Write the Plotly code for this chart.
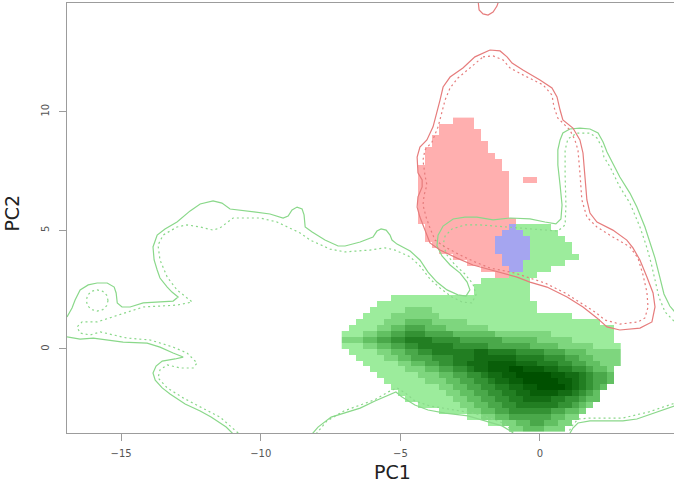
import plotly.graph_objects as go

# ---- density image grid (PC1 / PC2 units) ----
X0, DX, NCOL = -7.1, 0.25, 40
Y0, DY, NROW = -3.5, 0.25, 53

# green density: row -> (first column, [(level, run length), ...]) levels 1 (light) .. 9 (dark)
GREEN_RUNS = {
    34: (25, [(1, 5)]),
    33: (26, [(1, 5)]),
    32: (27, [(1, 5)]),
    31: (27, [(1, 6)]),
    30: (27, [(1, 6)]),
    29: (27, [(1, 7)]),
    28: (26, [(1, 6)]),
    27: (26, [(1, 4)]),
    26: (22, [(1, 6)]),
    25: (20, [(1, 7)]),
    24: (19, [(1, 8)]),
    23: (19, [(1, 8)]),
    22: (7, [(1, 20)]),
    21: (5, [(1, 23)]),
    20: (4, [(1, 5), (2, 4), (1, 15)]),
    19: (3, [(1, 4), (2, 7), (1, 19)]),
    18: (2, [(1, 4), (2, 3), (3, 4), (2, 5), (1, 19)]),
    17: (1, [(1, 4), (2, 2), (3, 2), (4, 3), (3, 3), (2, 6), (1, 18)]),
    16: (0, [(1, 3), (2, 2), (3, 2), (4, 2), (5, 3), (4, 4), (3, 6), (2, 8), (1, 9)]),
    15: (0, [(2, 3), (3, 2), (4, 2), (5, 2), (6, 4), (5, 4), (4, 6), (3, 5), (2, 5), (1, 6)]),
    14: (0, [(1, 3), (2, 2), (3, 2), (4, 2), (5, 2), (6, 5), (5, 5), (4, 6), (3, 4), (2, 5), (1, 4)]),
    13: (1, [(1, 4), (2, 2), (3, 2), (4, 2), (5, 2), (6, 6), (7, 2), (6, 4), (5, 4), (4, 3), (3, 3), (2, 5)]),
    12: (2, [(1, 4), (2, 2), (3, 2), (4, 3), (5, 3), (6, 3), (7, 6), (6, 4), (5, 3), (4, 2), (3, 2), (2, 4)]),
    11: (3, [(1, 5), (2, 2), (3, 2), (4, 2), (5, 2), (6, 2), (7, 3), (8, 4), (7, 3), (6, 3), (5, 2), (4, 2), (3, 2), (2, 3)]),
    10: (4, [(1, 5), (2, 3), (3, 2), (4, 2), (5, 2), (6, 1), (7, 2), (8, 3), (9, 2), (8, 3), (7, 2), (6, 2), (5, 2), (4, 1), (3, 2), (2, 1)]),
    9: (5, [(1, 6), (2, 3), (3, 2), (4, 2), (5, 2), (6, 1), (7, 2), (8, 2), (9, 5), (8, 2), (7, 2), (6, 1), (5, 1), (4, 2), (3, 1)]),
    8: (6, [(1, 6), (2, 3), (3, 2), (4, 2), (5, 2), (6, 1), (7, 2), (8, 2), (9, 5), (8, 2), (7, 1), (6, 1), (5, 1), (4, 2), (3, 1)]),
    7: (7, [(1, 7), (2, 2), (3, 2), (4, 2), (5, 2), (6, 2), (7, 2), (8, 2), (9, 4), (8, 1), (7, 1), (6, 1), (5, 1), (4, 1), (3, 1)]),
    6: (8, [(1, 7), (2, 2), (3, 2), (4, 2), (5, 2), (6, 2), (7, 2), (8, 4), (7, 2), (6, 1), (5, 1), (4, 1), (3, 1)]),
    5: (9, [(1, 7), (2, 2), (3, 2), (4, 2), (5, 2), (6, 2), (7, 4), (6, 2), (5, 2), (4, 1), (3, 2)]),
    4: (11, [(1, 6), (2, 2), (3, 2), (4, 2), (5, 2), (6, 6), (5, 2), (4, 1), (3, 1), (2, 1)]),
    3: (14, [(1, 4), (2, 2), (3, 2), (4, 2), (5, 6), (4, 2), (3, 2), (2, 1)]),
    2: (18, [(1, 2), (2, 2), (3, 2), (4, 6), (3, 2), (2, 2)]),
    1: (21, [(1, 2), (2, 2), (3, 2), (4, 2), (3, 2), (2, 2)]),
    0: (24, [(2, 2), (3, 3), (2, 3)]),
}

# red and blue density masks: (row, first column, last column)
RED_CELLS = [
    (52, 16, 18), (51, 14, 18), (50, 14, 19), (49, 13, 19), (48, 13, 20), (47, 12, 20),
    (46, 12, 21), (45, 12, 22), (44, 11, 22), (43, 11, 23), (42, 11, 23), (42, 26, 27),
    (41, 11, 23), (40, 11, 23), (39, 11, 23), (38, 11, 23), (37, 11, 23), (36, 11, 23),
    (35, 11, 24), (34, 12, 23), (33, 12, 22), (32, 12, 21), (31, 13, 21), (30, 14, 21),
    (29, 16, 22), (28, 18, 22), (27, 20, 23), (26, 22, 23),
]
BLUE_CELLS = [
    (34, 24, 24), (33, 23, 25), (32, 22, 26), (31, 22, 26), (30, 22, 26),
    (29, 23, 26), (28, 23, 25), (27, 24, 25),
]

# ---- contour lines (PC1, PC2) ----
GREEN_SOLID = [
    [(-16.94, 1.35), (-16.76, 1.73), (-16.65, 2.06), (-16.47, 2.49), (-16.18, 2.70), (-15.86, 2.78),
     (-15.50, 2.78), (-15.25, 2.61), (-15.18, 2.36), (-15.14, 1.94), (-14.97, 1.77), (-14.68, 1.77),
     (-14.21, 1.94), (-13.61, 1.98), (-13.14, 2.02), (-12.96, 2.19), (-13.18, 2.40), (-13.35, 2.61),
     (-13.61, 2.99), (-13.71, 3.33), (-13.82, 3.75), (-13.86, 4.30), (-13.71, 4.80), (-13.43, 5.06),
     (-13.00, 5.35), (-12.53, 5.82), (-12.17, 6.11), (-11.71, 6.24), (-11.39, 6.15), (-11.10, 5.90),
     (-10.28, 5.77), (-9.67, 5.69), (-9.20, 5.52), (-9.02, 5.60), (-8.88, 5.86), (-8.70, 5.98),
     (-8.52, 5.90), (-8.45, 5.65), (-8.41, 5.14), (-8.16, 4.93), (-7.70, 4.59), (-7.23, 4.34),
     (-6.98, 4.34), (-6.44, 4.51), (-5.98, 4.72), (-5.84, 4.97), (-5.69, 5.06), (-5.51, 5.01),
     (-5.37, 4.80), (-5.30, 4.59), (-5.12, 4.42), (-4.65, 4.13), (-4.30, 3.75), (-4.01, 3.24),
     (-3.69, 2.82), (-3.33, 2.49), (-2.94, 2.28), (-2.65, 2.23), (-2.51, 2.49), (-2.61, 2.82),
     (-2.86, 3.20), (-3.22, 3.54), (-3.51, 3.92), (-3.69, 4.34), (-3.65, 4.80), (-3.47, 5.18),
     (-3.11, 5.48), (-2.69, 5.56), (-2.26, 5.56), (-1.68, 5.44), (-1.07, 5.52), (-0.36, 5.48),
     (0.18, 5.35), (0.57, 5.27), (0.75, 5.48), (0.79, 6.07), (0.72, 6.91), (0.64, 7.75),
     (0.64, 8.39), (0.72, 8.81), (0.82, 9.10), (1.07, 9.27), (1.43, 9.31), (1.79, 9.27),
     (2.08, 9.10), (2.26, 8.72), (2.40, 8.30), (2.61, 7.84), (2.86, 7.25), (3.22, 6.57),
     (3.47, 5.98), (3.76, 5.14), (3.94, 4.51), (4.12, 3.83), (4.30, 2.99), (4.44, 2.32),
     (4.65, 1.81), (4.83, 1.56)],
    [(-16.94, 0.51), (-16.47, 0.42), (-16.00, 0.46), (-15.40, 0.38), (-14.93, 0.29), (-14.07, 0.25),
     (-13.61, 0.08), (-13.14, -0.17), (-12.78, -0.34), (-13.07, -0.42), (-13.53, -0.51), (-13.75, -0.72),
     (-13.86, -1.01), (-13.78, -1.31), (-13.53, -1.64), (-13.25, -1.90), (-12.71, -2.32), (-12.17, -2.61),
     (-11.78, -2.87), (-11.24, -3.29), (-10.99, -3.58)],
    [(-8.16, -3.58), (-7.95, -3.29), (-7.48, -2.87), (-7.02, -2.70), (-6.44, -2.49), (-5.91, -2.19),
     (-5.37, -1.94), (-5.16, -1.81), (-4.94, -2.02), (-4.48, -2.36), (-4.01, -2.57), (-3.40, -2.70),
     (-2.58, -2.82), (-1.97, -3.03), (-1.36, -3.24), (-1.00, -3.50), (-0.93, -3.62)],
    [(1.04, -3.62), (1.18, -3.33), (1.36, -3.12), (1.79, -3.03), (2.51, -3.03), (2.97, -3.03),
     (3.47, -2.95), (3.90, -2.78), (4.37, -2.61), (4.83, -2.40)],
]

GREEN_DOTTED = [
    [(-10.81, -3.54), (-11.46, -2.87), (-12.17, -2.44), (-12.78, -2.06), (-13.35, -1.64), (-13.68, -1.22),
     (-13.61, -0.88), (-13.35, -0.67), (-12.89, -0.80), (-12.42, -0.80), (-12.28, -0.59), (-12.64, -0.17),
     (-13.14, 0.08), (-13.96, 0.38), (-14.79, 0.46), (-15.29, 0.59), (-15.75, 0.72), (-16.11, 0.59),
     (-16.47, 0.67), (-16.58, 0.93), (-16.40, 1.14), (-15.86, 1.14), (-15.40, 1.31), (-14.79, 1.56),
     (-14.21, 1.77), (-13.00, 1.85), (-12.46, 1.98), (-13.00, 2.49), (-13.35, 3.03), (-13.61, 3.75),
     (-13.68, 4.38), (-13.50, 4.80), (-13.00, 5.14), (-12.64, 5.23), (-12.17, 5.14), (-11.71, 5.01),
     (-11.46, 5.10), (-10.99, 5.52), (-10.02, 5.52), (-9.42, 5.35), (-8.59, 4.89), (-8.23, 4.59),
     (-7.52, 4.21), (-6.98, 4.09), (-6.09, 4.17), (-5.55, 4.26), (-5.19, 4.17), (-4.65, 3.88),
     (-4.30, 3.50), (-3.94, 2.95), (-3.58, 2.57), (-3.15, 2.19), (-2.79, 1.98), (-2.44, 1.94),
     (-2.29, 2.28), (-2.40, 2.74), (-2.69, 3.16), (-3.04, 3.54), (-3.33, 3.96), (-3.47, 4.38),
     (-3.40, 4.76), (-3.15, 5.06), (-2.69, 5.23), (-2.15, 5.23), (-1.18, 5.14), (0.00, 5.01),
     (0.64, 4.97), (0.90, 5.23), (0.93, 6.07), (0.90, 7.33), (0.90, 8.39), (1.00, 8.85),
     (1.32, 9.10), (1.79, 9.10), (2.04, 8.89), (2.22, 8.51), (2.29, 8.09), (2.51, 7.67),
     (2.86, 6.83), (3.22, 6.15), (3.58, 5.14), (3.80, 4.38), (3.97, 3.67), (4.12, 2.91),
     (4.26, 2.19), (4.48, 1.56), (4.83, 1.14)],
    [(-15.47, 2.04), (-15.52, 2.27), (-15.66, 2.43), (-15.86, 2.49), (-16.06, 2.43), (-16.20, 2.27),
     (-16.25, 2.04), (-16.20, 1.82), (-16.06, 1.66), (-15.86, 1.60), (-15.66, 1.66), (-15.52, 1.82),
     (-15.47, 2.04)],
    [(-8.02, -3.58), (-7.63, -3.03), (-7.02, -2.61), (-6.44, -2.36), (-5.94, -2.15), (-5.44, -1.81),
     (-5.12, -1.64), (-4.83, -1.85), (-4.48, -2.19), (-3.94, -2.40), (-3.22, -2.53), (-2.40, -2.70),
     (-1.79, -2.91), (-1.25, -3.16), (-0.86, -3.62)],
    [(0.97, -3.62), (1.15, -3.24), (1.36, -2.95), (1.79, -2.91), (2.97, -2.91), (3.90, -2.65),
     (4.83, -2.28)],
]

RED_SOLID = [
    [(-1.79, 12.60), (-1.43, 12.56), (-1.18, 12.31), (-1.00, 12.05), (-0.61, 11.76), (0.00, 11.34),
     (0.43, 11.00), (0.61, 10.62), (0.72, 10.07), (0.82, 9.65), (1.18, 9.31), (1.43, 8.81),
     (1.54, 8.26), (1.61, 7.42), (1.68, 6.28), (1.79, 5.73), (2.04, 5.35), (2.61, 5.01),
     (3.11, 4.59), (3.33, 4.26), (3.58, 3.75), (3.83, 3.03), (4.05, 2.36), (4.12, 1.77),
     (4.01, 1.14), (3.58, 0.88), (2.86, 0.80), (2.40, 0.93), (2.04, 1.31), (1.54, 1.77),
     (0.97, 2.19), (0.25, 2.61), (-0.36, 2.82), (-0.82, 3.03), (-1.32, 3.20), (-1.79, 3.33),
     (-2.40, 3.54), (-2.97, 3.83), (-3.58, 4.17), (-3.94, 4.47), (-4.12, 5.01), (-4.30, 5.56),
     (-4.40, 5.98), (-4.37, 6.41), (-4.22, 6.83), (-4.22, 7.12), (-4.37, 7.42), (-4.40, 8.09),
     (-4.30, 8.51), (-4.05, 8.81), (-3.83, 9.36), (-3.69, 10.07), (-3.58, 10.49), (-3.47, 11.04),
     (-3.22, 11.46), (-2.76, 11.84), (-2.33, 12.31), (-1.79, 12.60)],
    [(-2.22, 14.70), (-2.18, 14.29), (-2.04, 14.12), (-1.86, 14.07), (-1.68, 14.20), (-1.54, 14.45),
     (-1.47, 14.70)],
]

RED_DOTTED = [
    [(-2.04, 12.31), (-1.68, 12.35), (-1.32, 12.18), (-1.07, 11.84), (-0.61, 11.55), (0.11, 11.13),
     (0.43, 10.70), (0.50, 10.20), (0.64, 9.73), (1.07, 9.23), (1.25, 8.81), (1.36, 8.39),
     (1.43, 7.42), (1.50, 6.28), (1.68, 5.56), (2.04, 5.14), (2.61, 4.72), (3.22, 4.30),
     (3.51, 3.83), (3.69, 3.12), (3.83, 2.40), (3.87, 1.77), (3.76, 1.31), (3.51, 1.14),
     (2.86, 1.05), (2.33, 1.22), (1.97, 1.56), (1.43, 1.98), (0.90, 2.36), (0.18, 2.78),
     (-0.36, 2.99), (-0.90, 3.20), (-1.43, 3.33), (-1.79, 3.41), (-2.33, 3.67), (-2.86, 3.96),
     (-3.40, 4.30), (-3.76, 4.59), (-3.94, 5.10), (-4.08, 5.56), (-4.19, 6.07), (-4.15, 6.49),
     (-4.05, 6.91), (-4.12, 7.33), (-4.19, 7.96), (-4.12, 8.39), (-3.87, 8.72), (-3.65, 9.36),
     (-3.51, 9.99), (-3.40, 10.49), (-3.22, 11.00), (-2.94, 11.42), (-2.51, 11.84), (-2.04, 12.31)],
]

X_TICKS = [-15, -10, -5, 0]
Y_TICKS = [0, 5, 10]
X_RANGE = [-16.94, 4.80]
Y_RANGE = [-3.54, 14.58]

GREEN_LINE = "#8ad88a"
RED_LINE = "#e67c7c"
DOT = "2px,3px"
GREEN_SCALE = [
    [0.0, "#9cec9c"], [0.125, "#7ed67e"], [0.25, "#62c062"], [0.375, "#4aa84a"],
    [0.5, "#349234"], [0.625, "#227e22"], [0.75, "#146c14"], [0.875, "#095e09"],
    [1.0, "#005000"],
]


def level_grid(runs):
    z = [[None] * NCOL for _ in range(NROW)]
    for row, (start, segs) in runs.items():
        c = start
        for lvl, n in segs:
            for _ in range(n):
                z[row][c] = lvl
                c += 1
    return z


def mask_grid(cells):
    z = [[None] * NCOL for _ in range(NROW)]
    for row, c0, c1 in cells:
        for c in range(c0, c1 + 1):
            z[row][c] = 1
    return z


x_edges = [X0 + DX * i for i in range(NCOL + 1)]
y_edges = [Y0 + DY * j for j in range(NROW + 1)]

fig = go.Figure()

fig.add_trace(go.Heatmap(
    z=level_grid(GREEN_RUNS), x=x_edges, y=y_edges, zmin=1, zmax=9,
    colorscale=GREEN_SCALE, showscale=False, hoverinfo="skip", zsmooth=False))
fig.add_trace(go.Heatmap(
    z=mask_grid(RED_CELLS), x=x_edges, y=y_edges, zmin=0, zmax=1,
    colorscale=[[0, "#ffafaf"], [1, "#ffafaf"]],
    showscale=False, hoverinfo="skip", zsmooth=False))
fig.add_trace(go.Heatmap(
    z=mask_grid(BLUE_CELLS), x=x_edges, y=y_edges, zmin=0, zmax=1,
    colorscale=[[0, "#a5a5f0"], [1, "#a5a5f0"]],
    showscale=False, hoverinfo="skip", zsmooth=False))


def add_lines(paths, color, dash):
    for p in paths:
        fig.add_trace(go.Scatter(
            x=[a for a, b in p], y=[b for a, b in p], mode="lines",
            line=dict(color=color, width=1.2, dash=dash),
            hoverinfo="skip", showlegend=False))


add_lines(GREEN_SOLID, GREEN_LINE, "solid")
add_lines(GREEN_DOTTED, GREEN_LINE, DOT)
add_lines(RED_SOLID, RED_LINE, "solid")
add_lines(RED_DOTTED, RED_LINE, DOT)

axis_common = dict(
    showgrid=False, zeroline=False, showline=True, linecolor="#9c9c9c", linewidth=1,
    ticks="outside", ticklen=7, tickcolor="#9c9c9c", tickwidth=1,
    tickfont=dict(family="DejaVu Sans", size=10, color="#555555"),
)

fig.update_layout(
    width=674, height=485,
    margin=dict(l=67, r=0, t=3, b=52),
    paper_bgcolor="white", plot_bgcolor="white",
    showlegend=False,
    font=dict(family="DejaVu Sans"),
    xaxis=dict(range=X_RANGE, tickvals=X_TICKS, mirror=True, ticklabelstandoff=4, **axis_common),
    yaxis=dict(range=Y_RANGE, tickvals=Y_TICKS, tickangle=-90, ticklabelstandoff=6, **axis_common),
    annotations=[
        dict(text="PC1", x=0.537, y=-0.09, xref="paper", yref="paper", showarrow=False,
             xanchor="center", yanchor="middle", font=dict(size=19, color="#222222")),
        dict(text="PC2", x=-0.091, y=0.512, xref="paper", yref="paper", showarrow=False,
             textangle=-90, xanchor="center", yanchor="middle", font=dict(size=19, color="#222222")),
    ],
)

fig.write_html(
    "out.html",
    config={"displayModeBar": False},
    post_script="document.body.style.margin='0';document.body.style.padding='0';"
                "document.documentElement.style.overflow='hidden';",
)
